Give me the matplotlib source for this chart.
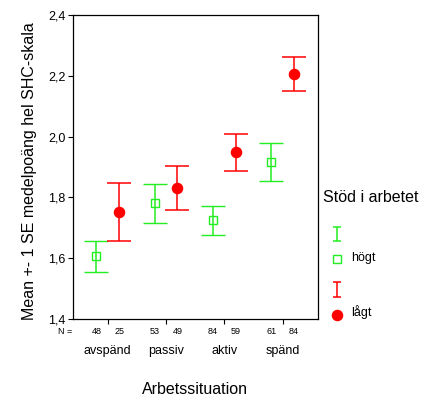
"""Mean +- 1 SE per Arbetssituation, split by Stöd i arbetet."""

import matplotlib
matplotlib.use("Agg")
import matplotlib.pyplot as plt
import numpy as np

# =============================================================================
# Data
# =============================================================================
categories = ["avspänd", "passiv", "aktiv", "spänd"]
mean_hogt = [1.606, 1.781, 1.725, 1.916]
se_hogt = [0.051, 0.064, 0.048, 0.062]
mean_lagt = [1.752, 1.832, 1.948, 2.205]
se_lagt = [0.095, 0.072, 0.060, 0.056]
n_hogt = [48, 53, 84, 61]
n_lagt = [25, 49, 59, 84]
yticks = [1.4, 1.6, 1.8, 2.0, 2.2, 2.4]

GREEN = "#22ee22"
RED = "#ff0000"

plt.rcParams["font.family"] = ["Liberation Sans", "DejaVu Sans"]

fig = plt.figure(figsize=(4.22, 3.96), dpi=100)
ax = fig.add_axes([72.7 / 422, 77 / 396, 245 / 422, 304 / 396])

x = np.arange(len(categories))
off = 0.195

ax.errorbar(x - off, mean_hogt, yerr=se_hogt, fmt="s", color=GREEN,
            mfc="none", mec=GREEN, ms=5.5, mew=1, elinewidth=1.1,
            capsize=8.3, capthick=1.1)
ax.errorbar(x + off, mean_lagt, yerr=se_lagt, fmt="o", color=RED,
            mfc=RED, mec=RED, ms=7.3, elinewidth=1.1,
            capsize=8.5, capthick=1.1)

ax.set_xlim(-0.6, 3.6)
ax.set_ylim(1.4, 2.4)
ax.set_yticks(yticks)
ax.set_yticklabels([f"{v:.1f}".replace(".", ",") for v in yticks], fontsize=9)
ax.set_xticks(x)
ax.set_xticklabels([])
ax.tick_params(axis="y", length=3.5, pad=1.5, width=0.8)
ax.tick_params(axis="x", length=3.5, width=0.8)
for s in ax.spines.values():
    s.set_linewidth(0.9)

# N row and category names below the axis
trans = ax.get_xaxis_transform()
ax.text(-0.6, -0.0395, "N =", transform=trans, fontsize=6.5, ha="right",
        va="center")
for i in range(len(categories)):
    ax.text(i - off, -0.0395, str(n_hogt[i]), transform=trans, fontsize=6.5,
            ha="center", va="center")
    ax.text(i + off, -0.0395, str(n_lagt[i]), transform=trans, fontsize=6.5,
            ha="center", va="center")
    ax.text(i, -0.105, categories[i], transform=trans, fontsize=9,
            ha="center", va="center")

fig.text(195 / 422, 1 - 390 / 396, "Arbetssituation", fontsize=11.5,
         ha="center", va="center")
fig.text(30 / 422, 1 - 171 / 396, "Mean +- 1 SE medelpoäng hel SHC-skala",
         fontsize=11.5, rotation=90, ha="center", va="center")

# Legend drawn by hand in pixel coordinates
lax = fig.add_axes([0, 0, 1, 1])
lax.set_xlim(0, 422)
lax.set_ylim(396, 0)
lax.axis("off")
lax.text(322.7, 198, "Stöd i arbetet", fontsize=11.5, va="center", ha="left")
lax.errorbar([337], [234], yerr=[[7.2], [7.2]], fmt="none", ecolor=GREEN,
             elinewidth=1.1, capsize=3, capthick=1.1)
lax.plot([337], [259], "s", mfc="none", mec=GREEN, ms=5.5, mew=1)
lax.text(351, 258, "högt", fontsize=9, va="center", ha="left")
lax.errorbar([337], [289], yerr=[[7.5], [7.5]], fmt="none", ecolor=RED,
             elinewidth=1.1, capsize=3, capthick=1.1)
lax.plot([337], [315], "o", color=RED, ms=7.3)
lax.text(351, 312, "lågt", fontsize=9, va="center", ha="left")

plt.savefig("out.png", dpi=100)
